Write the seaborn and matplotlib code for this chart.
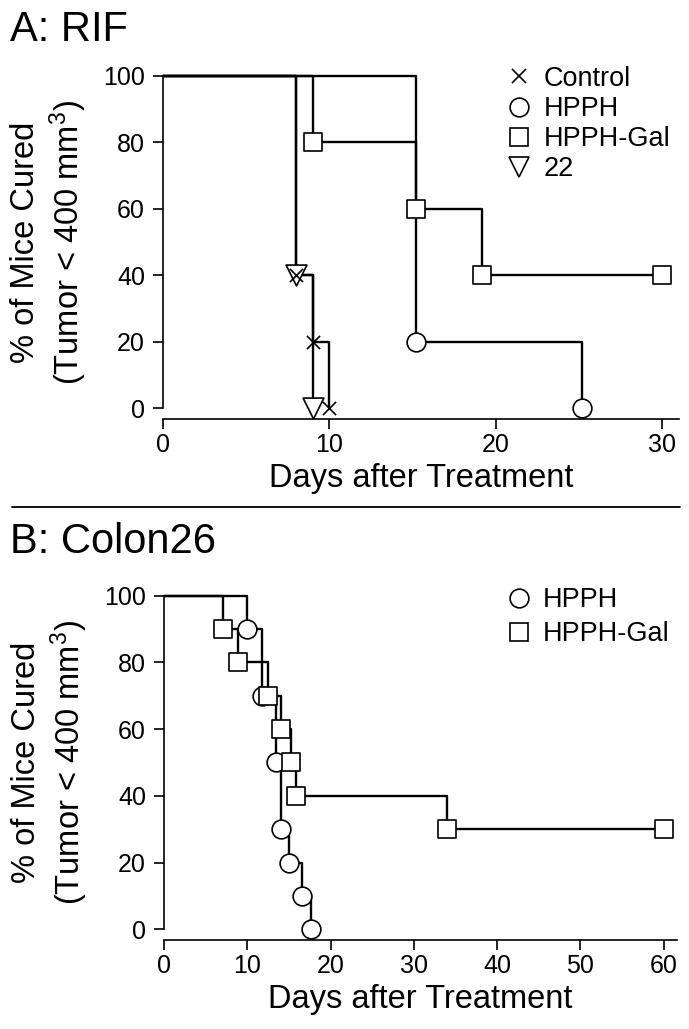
import numpy as np
import pandas as pd
import matplotlib
matplotlib.use("Agg")
import matplotlib.pyplot as plt
from matplotlib.lines import Line2D
import seaborn as sns

# ---- data ----
# A: RIF  (event day -> % mice cured after the drop)
rif_groups = ["Control", "HPPH", "HPPH-Gal", "22"]
rif_days = {
    "Control": [8, 9, 10],
    "HPPH": [15.2, 25.2],
    "HPPH-Gal": [9, 15.2, 19.2, 30],
    "22": [8, 9],
}
rif_pct = {
    "Control": [40, 20, 0],
    "HPPH": [20, 0],
    "HPPH-Gal": [80, 60, 40, 40],
    "22": [40, 0],
}

# B: Colon26
col_groups = ["HPPH", "HPPH-Gal"]
col_days = {
    "HPPH": [10, 11.8, 13.4, 14.1, 15.0, 16.6, 17.6],
    "HPPH-Gal": [7.1, 8.9, 12.5, 14.0, 15.3, 15.9, 34, 60],
}
col_pct = {
    "HPPH": [90, 70, 50, 30, 20, 10, 0],
    "HPPH-Gal": [90, 80, 70, 60, 50, 40, 30, 30],
}

rif_xticks = [0, 10, 20, 30]
col_xticks = [0, 10, 20, 30, 40, 50, 60]
yticks = [0, 20, 40, 60, 80, 100]

# marker styles: (marker, size in pt)
mstyle = {
    "Control": ("x", 9.5),
    "HPPH": ("o", 13.5),
    "HPPH-Gal": ("s", 13),
    "22": ("v", 15),
}

sns.set_style("ticks")
plt.rcParams['font.family'] = ['Liberation Sans', 'DejaVu Sans']
plt.rcParams['mathtext.default'] = 'regular'
plt.rcParams['text.color'] = 'black'
plt.rcParams['axes.labelcolor'] = 'black'


def make_frames(groups, days, pct):
    """step-line frame (starts at day 0 / 100 %) and marker frame"""
    lines, pts = [], []
    for g in groups:
        lines.append(pd.DataFrame({"group": g, "day": [0] + days[g], "pct": [100] + pct[g]}))
        pts.append(pd.DataFrame({"group": g, "day": days[g], "pct": pct[g]}))
    return pd.concat(lines, ignore_index=True), pd.concat(pts, ignore_index=True)


def draw_panel(ax, groups, days, pct, draw_order, xmax, xticks):
    df_line, df_pts = make_frames(groups, days, pct)
    sns.lineplot(data=df_line, x="day", y="pct", units="group", estimator=None,
                 sort=False, color="black", lw=1.7, drawstyle="steps-post",
                 legend=False, ax=ax, clip_on=False, zorder=2)
    for g in draw_order:
        m, ms = mstyle[g]
        sub = df_pts[df_pts["group"] == g]
        if m == "x":
            sns.scatterplot(data=sub, x="day", y="pct", marker=m, s=ms ** 2,
                            color="black", linewidth=1.2, ax=ax, clip_on=False, zorder=3)
        else:
            sns.scatterplot(data=sub, x="day", y="pct", marker=m, s=ms ** 2,
                            facecolor="white", edgecolor="black", linewidth=1.2,
                            ax=ax, clip_on=False, zorder=3)

    ax.set_xlim(0, xmax)
    ax.set_ylim(0, 100)
    ax.set_xticks(xticks)
    ax.set_yticks(yticks)
    sns.despine(ax=ax)
    ax.spines['bottom'].set_position(('outward', 8))
    for s in ["left", "bottom"]:
        ax.spines[s].set_linewidth(1.2)
        ax.spines[s].set_color("black")
    ax.tick_params(axis="both", direction="out", length=7, width=1.2,
                   labelsize=18, color="black", labelcolor="black")
    ax.tick_params(axis="y", pad=6)
    ax.tick_params(axis="x", pad=3)
    ax.set_xlabel("Days after Treatment", fontsize=23.5, labelpad=4)
    ax.set_ylabel("% of Mice Cured\n(Tumor < 400 mm$^3$)", fontsize=23.5, labelpad=10)

    handles = []
    for g in groups:
        m, ms = mstyle[g]
        if m == "x":
            h = Line2D([0], [0], ls="none", marker=m, ms=ms, color="black", mew=1.2)
        else:
            h = Line2D([0], [0], ls="none", marker=m, ms=ms, mfc="white", mec="black", mew=1.2)
        handles.append(h)
    return handles


fig = plt.figure(figsize=(6.89, 10.29), dpi=100)
axA = fig.add_axes([0.2366, 0.6033, 0.7483, 0.3229])
axB = fig.add_axes([0.238, 0.0969, 0.7446, 0.3242])

hA = draw_panel(axA, rif_groups, rif_days, rif_pct, ["22", "Control", "HPPH", "HPPH-Gal"], 31, rif_xticks)
hB = draw_panel(axB, col_groups, col_days, col_pct, ["HPPH", "HPPH-Gal"], 61.6, col_xticks)

axA.legend(hA, rif_groups, loc="upper left", bbox_to_anchor=(0.664, 1.03),
           frameon=False, fontsize=19.5, handlelength=1.0, handletextpad=0.4,
           labelspacing=0.15, borderpad=0, borderaxespad=0)
axB.legend(hB, col_groups, loc="upper left", bbox_to_anchor=(0.665, 1.025),
           frameon=False, fontsize=19.5, handlelength=1.0, handletextpad=0.4,
           labelspacing=0.3, borderpad=0, borderaxespad=0)

# panel titles and separator
fig.text(10 / 689, 1 - 41 / 1029, "A: RIF", fontsize=30, va="baseline", ha="left")
fig.text(10 / 689, 1 - 553 / 1029, "B: Colon26", fontsize=30, va="baseline", ha="left")
fig.add_artist(Line2D([12 / 689, 680 / 689], [1 - 507 / 1029, 1 - 507 / 1029],
                      transform=fig.transFigure, color="black", lw=1.3))

fig.savefig("out.png", dpi=100, facecolor="white")
